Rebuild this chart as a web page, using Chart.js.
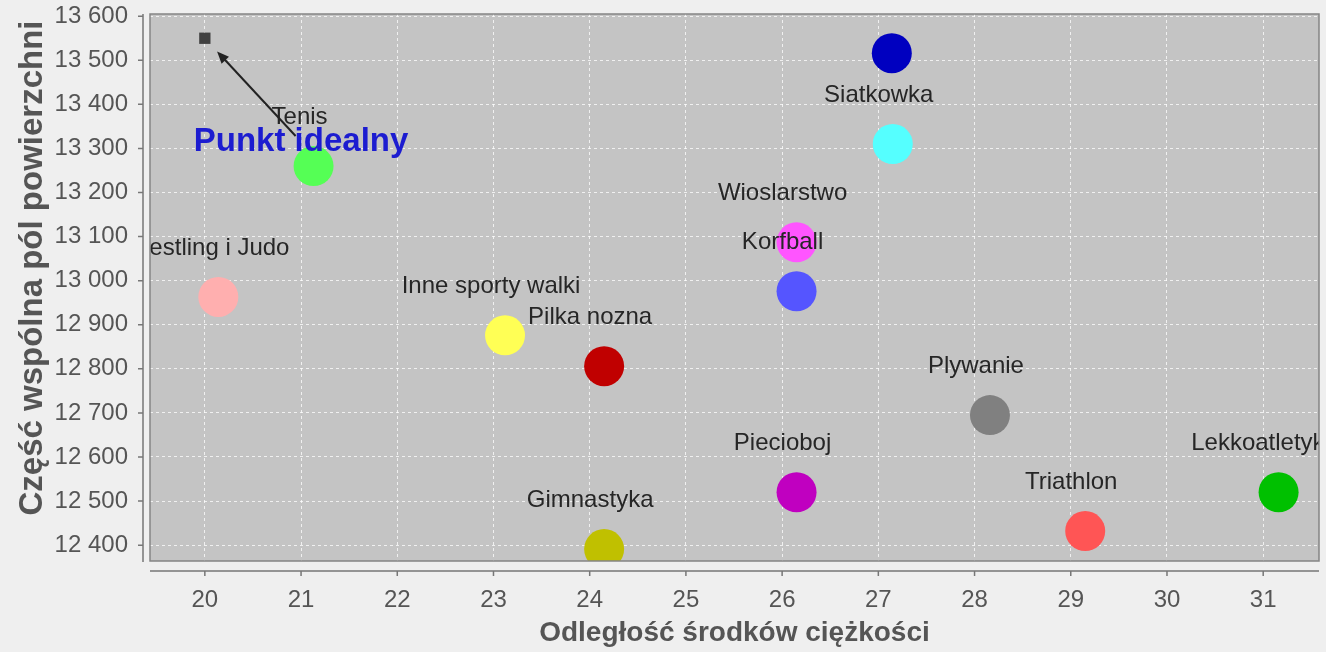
<!doctype html>
<html lang="pl"><head>
<meta charset="utf-8"/>
<title>Punkt idealny</title>
<script src="https://cdn.jsdelivr.net/npm/chart.js@4.4.6/dist/chart.umd.min.js"></script>
<style>
  html,body{margin:0;background:#efefef}
  #wrap{position:relative;width:1326px;height:652px}
</style></head>
<body>
<div id="wrap"><canvas id="c"></canvas></div>
<script>
// data
const sports = ['', 'Siatkowka', 'Tenis', 'Wrestling i Judo', 'Inne sporty walki', 'Pilka nozna',
  'Wioslarstwo', 'Korfball', 'Plywanie', 'Piecioboj', 'Gimnastyka', 'Triathlon', 'Lekkoatletyka'];
const dist = [27.14, 27.15, 21.13, 20.14, 23.12, 24.15, 26.15, 26.15, 28.16, 26.15, 24.15, 29.15, 31.16];
const common = [13516, 13310, 13260, 12963, 12876, 12806, 13087, 12976, 12695, 12520, 12391, 12432, 12520];
const colors = ['#0000c0', '#55ffff', '#55ff55', '#ffafaf', '#ffff55', '#c00000',
  '#ff55ff', '#5555ff', '#808080', '#c000c0', '#c0c000', '#ff5555', '#00c000'];
const idealPoint = [20, 13550];
const idealLabel = 'Punkt idealny';
const idealLabelAt = [21, 13315];
const xTicks = [20, 21, 22, 23, 24, 25, 26, 27, 28, 29, 30, 31];
const yTicks = [12400, 12500, 12600, 12700, 12800, 12900, 13000, 13100, 13200, 13300, 13400, 13500, 13600];
const xTitle = 'Odległość środków ciężkości';
const yTitle = 'Część wspólna pól powierzchni';

const FONT = '"Liberation Sans", Arial, sans-serif';
const INK = '#555';
const fmt = v => String(v).replace(/\B(?=(\d{3})+(?!\d))/g, ' ');

const datasets = sports.map((s, i) => ({
  label: s, data: [{x: dist[i], y: common[i]}],
  backgroundColor: colors[i], borderWidth: 0, pointRadius: 20, pointHoverRadius: 20, clip: 0
}));
datasets.push({
  label: '', data: [{x: idealPoint[0], y: idealPoint[1]}], pointStyle: 'rect',
  backgroundColor: '#404040', borderWidth: 0, pointRadius: 8, pointHoverRadius: 8, clip: 0
});

// plot background, borders, offset axis lines and the y title
const frame = {
  id: 'frame',
  beforeDraw(chart) {
    const {ctx, chartArea: a} = chart;
    ctx.save();
    ctx.fillStyle = '#c4c4c4';
    ctx.fillRect(a.left, a.top, a.right - a.left, a.bottom - a.top);
    ctx.restore();
  },
  afterDraw(chart) {
    const {ctx, chartArea: a, scales: {x, y}} = chart;
    ctx.save();
    ctx.strokeStyle = '#858585'; ctx.lineWidth = 1.5;
    ctx.strokeRect(a.left, a.top, a.right - a.left, a.bottom - a.top);
    ctx.strokeStyle = '#777'; ctx.lineWidth = 1.5;
    const ax = a.left - 7, ay = a.bottom + 10;
    ctx.beginPath();
    ctx.moveTo(ax, a.top); ctx.lineTo(ax, a.bottom + 1);
    yTicks.forEach(v => { const py = y.getPixelForValue(v); ctx.moveTo(ax - 5, py); ctx.lineTo(ax, py); });
    ctx.moveTo(a.left, ay); ctx.lineTo(a.right, ay);
    xTicks.forEach(v => { const px = x.getPixelForValue(v); ctx.moveTo(px, ay); ctx.lineTo(px, ay + 5); });
    ctx.stroke();
    ctx.translate(33, 268); ctx.rotate(-Math.PI / 2);
    ctx.font = 'bold 33px ' + FONT; ctx.fillStyle = INK;
    ctx.textAlign = 'center'; ctx.textBaseline = 'middle';
    ctx.fillText(yTitle, 0, 0);
    ctx.restore();
  }
};

// point labels + the "Punkt idealny" pointer, clipped to the plot
const labels = {
  id: 'labels',
  afterDatasetsDraw(chart) {
    const {ctx, chartArea: a, scales: {x, y}} = chart;
    ctx.save();
    ctx.beginPath(); ctx.rect(a.left, a.top, a.right - a.left, a.bottom - a.top); ctx.clip();
    ctx.font = '24px ' + FONT; ctx.fillStyle = '#262626';
    ctx.textAlign = 'center'; ctx.textBaseline = 'middle';
    sports.forEach((s, i) => {
      if (!s) return;
      ctx.fillText(s, x.getPixelForValue(dist[i]) - 14, y.getPixelForValue(common[i]) - 49);
    });
    const tx = x.getPixelForValue(idealPoint[0]), ty = y.getPixelForValue(idealPoint[1]);
    const lx = x.getPixelForValue(idealLabelAt[0]), ly = y.getPixelForValue(idealLabelAt[1]);
    const dx = tx - lx, dy = ty - ly, L = Math.hypot(dx, dy), ux = dx / L, uy = dy / L;
    const sx = lx + ux * 8, sy = ly + uy * 8, ex = tx - ux * 18, ey = ty - uy * 18;
    ctx.strokeStyle = '#222'; ctx.fillStyle = '#222'; ctx.lineWidth = 2;
    ctx.beginPath(); ctx.moveTo(sx, sy); ctx.lineTo(ex - ux * 8, ey - uy * 8); ctx.stroke();
    ctx.beginPath();
    ctx.moveTo(ex, ey);
    ctx.lineTo(ex - ux * 12 - uy * 5, ey - uy * 12 + ux * 5);
    ctx.lineTo(ex - ux * 12 + uy * 5, ey - uy * 12 - ux * 5);
    ctx.closePath(); ctx.fill();
    ctx.font = 'bold 33px ' + FONT; ctx.fillStyle = '#1c1cd0';
    ctx.fillText(idealLabel, lx, ly);
    ctx.restore();
  }
};

new Chart(document.getElementById('c'), {
  type: 'scatter',
  data: {datasets},
  options: {
    responsive: true, maintainAspectRatio: false, animation: false,
    events: [],
    layout: {autoPadding: false, padding: {top: 14, right: 7, left: 0, bottom: 0}},
    plugins: {legend: {display: false}, tooltip: {enabled: false}},
    scales: {
      x: {
        type: 'linear', min: 19.43, max: 31.58,
        afterBuildTicks: s => { s.ticks = xTicks.map(v => ({value: v})); },
        afterFit: s => { s.height = 91; s.paddingLeft = 0; s.paddingRight = 0; },
        grid: {color: 'rgba(255,255,255,0.75)', lineWidth: 1, drawTicks: false},
        border: {display: false, dash: [3, 3]},
        ticks: {color: INK, font: {family: FONT, size: 24}, padding: 25, maxRotation: 0, autoSkip: false},
        title: {display: true, text: xTitle, color: INK, font: {family: FONT, size: 28, weight: 'bold', lineHeight: 1}, padding: {top: 0, bottom: 5}}
      },
      y: {
        type: 'linear', min: 12364, max: 13605,
        afterBuildTicks: s => { s.ticks = yTicks.map(v => ({value: v})); },
        afterFit: s => { s.width = 150; s.paddingTop = 0; s.paddingBottom = 0; },
        grid: {color: 'rgba(255,255,255,0.75)', lineWidth: 1, drawTicks: false},
        border: {display: false, dash: [3, 3]},
        ticks: {color: INK, font: {family: FONT, size: 24}, padding: 22, autoSkip: false, callback: v => fmt(v)}
      }
    }
  },
  plugins: [frame, labels]
});
</script>
</body></html>
